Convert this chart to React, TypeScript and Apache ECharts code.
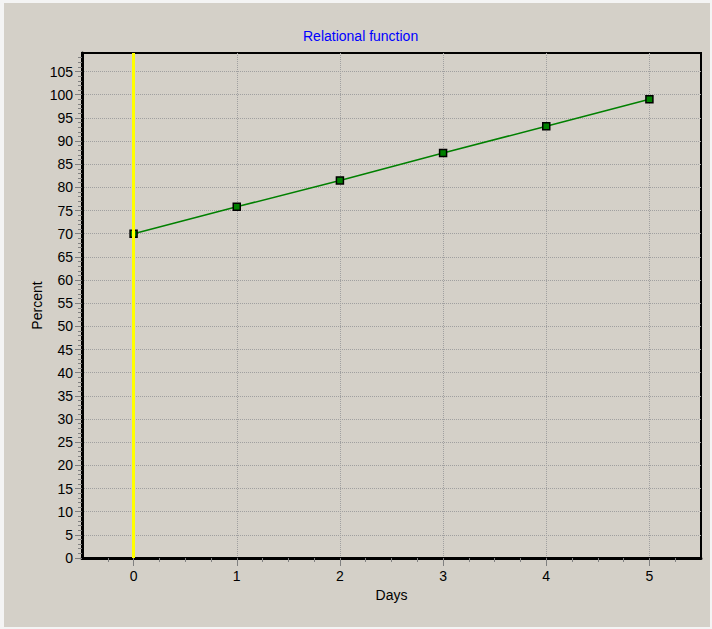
import React, { useEffect, useRef } from "react";
import * as echarts from "echarts";

const days = [0, 1, 2, 3, 4, 5];
const percent = [70, 75.8, 81.5, 87.4, 93.2, 99];
const xTickValues = [0, 1, 2, 3, 4, 5];
const yTickValues = [0, 5, 10, 15, 20, 25, 30, 35, 40, 45, 50, 55, 60, 65, 70, 75, 80, 85, 90, 95, 100, 105];
const markerDay = 0;

const FONT = "'Liberation Sans', Arial, sans-serif";

export default function App() {
  const ref = useRef<HTMLDivElement>(null);

  useEffect(() => {
    if (!ref.current) return;
    const chart = echarts.init(ref.current, undefined, { renderer: "svg" });
    const intFmt = (v: number) => (Math.abs(v - Math.round(v)) < 1e-9 ? String(Math.round(v)) : "");
    chart.setOption({
      animation: false,
      backgroundColor: "#d4d0c8",
      title: {
        text: "Relational function",
        left: 299,
        top: 26,
        padding: 0,
        textStyle: { color: "#0000ff", fontSize: 14, fontWeight: "normal", fontFamily: FONT },
      },
      grid: {
        left: 78,
        top: 50,
        width: 619,
        height: 505,
        show: true,
        borderColor: "#000",
        borderWidth: 2,
        backgroundColor: "transparent",
      },
      xAxis: {
        type: "value",
        min: -0.5,
        max: 5.5,
        name: "Days",
        nameLocation: "middle",
        nameGap: 30,
        nameTextStyle: { color: "#000", fontSize: 14, fontFamily: FONT },
        axisLine: { show: true, onZero: false, lineStyle: { color: "#000", width: 3, type: [2, 1] } },
        axisTick: { show: true, customValues: xTickValues, length: 8, lineStyle: { color: "#808080", width: 1 } },
        minorTick: { show: true, splitNumber: 4, length: 4, lineStyle: { color: "#808080", width: 1 } },
        axisLabel: { customValues: xTickValues, color: "#000", fontSize: 14, margin: 11, fontFamily: FONT, formatter: intFmt },
        splitLine: { show: true, lineStyle: { color: "#a0a0a0", type: "dotted", width: 1 } },
      },
      yAxis: {
        type: "value",
        min: 0,
        max: 109,
        interval: 5,
        name: "Percent",
        nameLocation: "middle",
        nameGap: 38,
        nameMoveOverlap: false,
        nameTextStyle: { color: "#000", fontSize: 14, fontFamily: FONT },
        axisLine: { show: true, onZero: false, lineStyle: { color: "#000", width: 3 } },
        axisTick: { show: true, customValues: yTickValues, length: 7, lineStyle: { color: "#808080", width: 1 } },
        minorTick: { show: true, splitNumber: 5, length: 4, lineStyle: { color: "#808080", width: 1 } },
        axisLabel: { customValues: yTickValues, color: "#000", fontSize: 14, margin: 9, fontFamily: FONT, formatter: intFmt },
        splitLine: { show: true, lineStyle: { color: "#a0a0a0", type: "dotted", width: 1 } },
      },
      series: [
        {
          type: "line",
          data: days.map((d, i) => [d, percent[i]]),
          symbol: "rect",
          symbolSize: 7,
          lineStyle: { color: "#008000", width: 1.5 },
          itemStyle: { color: "#008000", borderColor: "#000", borderWidth: 1.5 },
          markLine: {
            silent: true,
            symbol: ["none", "none"],
            label: { show: false },
            lineStyle: { color: "#ffff00", width: 3, type: "solid" },
            data: [{ xAxis: markerDay }],
          },
        },
      ],
    });
    return () => chart.dispose();
  }, []);

  return (
    <div style={{ position: "absolute", left: 0, top: 0, width: 712, height: 629, background: "#f4f4f4" }}>
      <div ref={ref} style={{ position: "absolute", left: 4, top: 3, width: 706, height: 624 }} />
    </div>
  );
}
